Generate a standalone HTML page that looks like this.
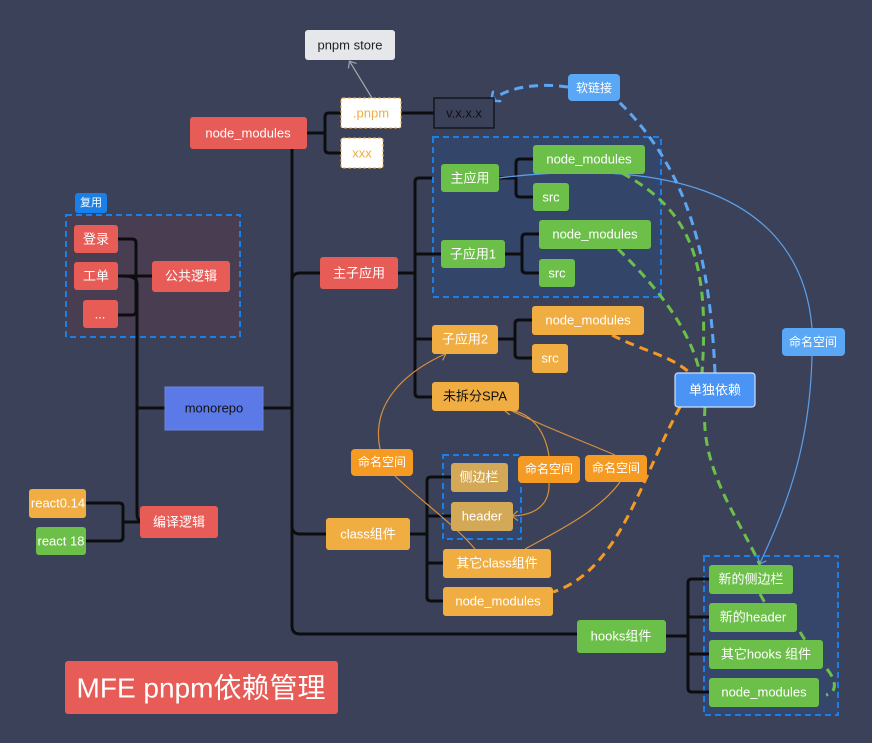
<!DOCTYPE html>
<html><head><meta charset="utf-8"><style>
html,body{margin:0;padding:0;background:#3b4159;}
svg{display:block}
text{font-family:"Liberation Sans","Noto Sans CJK SC",sans-serif;dominant-baseline:central;text-anchor:middle;}
</style></head><body>
<svg width="872" height="743" viewBox="0 0 872 743" xmlns="http://www.w3.org/2000/svg">
<defs>
<marker id="ao" markerWidth="10" markerHeight="10" refX="5" refY="5" orient="auto-start-reverse" markerUnits="userSpaceOnUse"><path d="M0,0 L6,5 L0,10" fill="none" stroke="#d8913a" stroke-width="1.2"/></marker>
<marker id="ab" markerWidth="14" markerHeight="14" refX="7" refY="7" orient="auto" markerUnits="userSpaceOnUse"><path d="M0,0 L8,7 L0,14" fill="none" stroke="#5aa7f5" stroke-width="2.5"/></marker>
<marker id="ab2" markerWidth="10" markerHeight="10" refX="5" refY="5" orient="auto" markerUnits="userSpaceOnUse"><path d="M0,0 L6,5 L0,10" fill="none" stroke="#5aa0ea" stroke-width="1.2"/></marker>
<marker id="ag" markerWidth="10" markerHeight="10" refX="5" refY="5" orient="auto" markerUnits="userSpaceOnUse"><path d="M0,0 L6,5 L0,10" fill="none" stroke="#9aa" stroke-width="1.2"/></marker>
</defs>
<rect x="0" y="0" width="872" height="743" fill="#3b4159"/>
<!-- group boxes -->
<rect x="66" y="215" width="174" height="122" fill="#493d52" stroke="#1a7fe6" stroke-width="2" stroke-dasharray="6,4"/>
<rect x="433" y="137" width="228" height="160" fill="#34456a" stroke="#1a7fe6" stroke-width="2" stroke-dasharray="6,4"/>
<rect x="443" y="455" width="78" height="84" fill="#36456a" stroke="#1a7fe6" stroke-width="2" stroke-dasharray="6,4"/>
<rect x="704" y="556" width="134" height="159" fill="#36456a" stroke="#1a7fe6" stroke-width="2" stroke-dasharray="6,4"/>

<!-- black tree lines -->
<g fill="none" stroke="#0d0d10" stroke-width="3" stroke-linejoin="round">
<path d="M292,149 V626 Q292,634 300,634 H577"/>
<path d="M263,408 H292"/>
<path d="M292,281 Q292,273 300,273 H320"/>
<path d="M292,526 Q292,534 300,534 H326"/>
<path d="M307,133 H325 M341,113 H329 Q325,113 325,117 V149 Q325,153 329,153 H341"/>
<path d="M401,113 H434"/>
<path d="M398,273 H415 M432,178 H419 Q415,178 415,182 V393 Q415,397 419,397 H432 M415,254 H441 M415,339 H432"/>
<path d="M499,178 H516 M533,159 H520 Q516,159 516,163 V193 Q516,197 520,197 H533"/>
<path d="M505,254 H522 M539,234 H526 Q522,234 522,238 V269 Q522,273 526,273 H539"/>
<path d="M498,339 H515 M532,320 H519 Q515,320 515,324 V354 Q515,358 519,358 H532"/>
<path d="M410,534 H427 M451,477 H431 Q427,477 427,481 V597 Q427,601 431,601 H443 M427,516 H451 M427,563 H443"/>
<path d="M666,636 H688 M709,579 H692 Q688,579 688,583 V688 Q688,692 692,692 H709 M688,617 H709 M688,654 H709"/>
<path d="M118,239 H132 Q136,239 136,243 V311 Q136,315 132,315 H118 M118,276 H152"/>
<path d="M124,276 Q137,276 137,284 V514 Q137,522 145,522 M137,408 H165"/>
<path d="M86,503 H119 Q123,503 123,507 V537 Q123,541 119,541 H86 M123,522 H140"/>
</g>

<!-- thin lines -->
<path d="M372,98 L350,62" stroke="#9aa" stroke-width="1.2" fill="none" marker-end="url(#ag)"/>
<g fill="none" stroke="#d8913a" stroke-width="1.2">
<path d="M380,449 C370,400 410,370 445,354" marker-end="url(#ao)"/>
<path d="M395,476 C420,500 455,525 475,549"/>
<path d="M549,456 C545,430 530,410 505,410" marker-end="url(#ao)"/>
<path d="M549,483 C550,505 535,515 513,516" marker-end="url(#ao)"/>
<path d="M615,455 C580,440 540,425 510,410"/>
<path d="M620,482 C600,510 560,530 525,549"/>
</g>
<path d="M499,178 C640,160 800,180 812,328" stroke="#5aa0ea" stroke-width="1.2" fill="none"/>
<path d="M812,356 C810,440 790,500 760,563" stroke="#5aa0ea" stroke-width="1.2" fill="none" marker-end="url(#ab2)"/>

<!-- dashed curves -->
<g fill="none" stroke-width="3" stroke-dasharray="9,6">
<path d="M715,373 C710,260 690,170 617,100" stroke="#5aa7f5"/>
<path d="M568,87 C540,83 510,86 492,100" stroke="#5aa7f5" marker-end="url(#ab)"/>
<path d="M622,173 C690,210 710,260 702,373" stroke="#6cc04a"/>
<path d="M618,249 C660,290 690,330 700,373" stroke="#6cc04a"/>
<path d="M612,335 C640,350 670,355 690,373" stroke="#f59a23"/>
<path d="M680,407 C640,480 620,570 553,592" stroke="#f59a23"/>
<path d="M705,407 C700,470 740,520 760,565" stroke="#6cc04a"/>
<path d="M760,594 L765,603 M800,632 L805,640 M827,669 C836,680 838,692 826,695" stroke="#6cc04a"/>
</g>

<!-- nodes -->
<g font-size="13">
<rect x="305" y="30" width="90" height="30" rx="3" fill="#e5e7eb"/><text x="350" y="45" fill="#222">pnpm store</text>
<rect x="190" y="117" width="117" height="32" rx="3" fill="#e85c57"/><text x="248" y="133" fill="#fff">node_modules</text>
<rect x="341" y="98" width="60" height="30" rx="2" fill="#fff" stroke="#f0ad42" stroke-dasharray="3,2"/><text x="371" y="113" fill="#f0ad42">.pnpm</text>
<rect x="341" y="138" width="42" height="30" rx="2" fill="#fff" stroke="#f0ad42" stroke-dasharray="3,2"/><text x="362" y="153" fill="#f0ad42">xxx</text>
<rect x="434" y="98" width="60" height="30" fill="#3b4159" stroke="#15161c" stroke-width="1.5"/><text x="464" y="113" fill="#111">v.x.x.x</text>
<rect x="568" y="74" width="52" height="27" rx="4" fill="#5aa7f5"/><text x="594" y="88" fill="#fff" font-size="12">软链接</text>
<rect x="441" y="164" width="58" height="28" rx="3" fill="#6cc04a"/><text x="470" y="178" fill="#fff">主应用</text>
<rect x="533" y="145" width="112" height="29" rx="3" fill="#6cc04a"/><text x="589" y="159" fill="#fff">node_modules</text>
<rect x="533" y="183" width="36" height="28" rx="3" fill="#6cc04a"/><text x="551" y="197" fill="#fff">src</text>
<rect x="441" y="240" width="64" height="28" rx="3" fill="#6cc04a"/><text x="473" y="254" fill="#fff">子应用1</text>
<rect x="539" y="220" width="112" height="29" rx="3" fill="#6cc04a"/><text x="595" y="234" fill="#fff">node_modules</text>
<rect x="539" y="259" width="36" height="28" rx="3" fill="#6cc04a"/><text x="557" y="273" fill="#fff">src</text>
<rect x="320" y="257" width="78" height="32" rx="3" fill="#e85c57"/><text x="359" y="273" fill="#fff">主子应用</text>
<rect x="432" y="325" width="66" height="29" rx="3" fill="#f0ad42"/><text x="465" y="339" fill="#fff">子应用2</text>
<rect x="532" y="306" width="112" height="29" rx="3" fill="#f0ad42"/><text x="588" y="320" fill="#fff">node_modules</text>
<rect x="532" y="344" width="36" height="29" rx="3" fill="#f0ad42"/><text x="550" y="358" fill="#fff">src</text>
<rect x="432" y="382" width="87" height="29" rx="3" fill="#f0ad42"/><text x="475" y="396" fill="#111">未拆分SPA</text>
<rect x="165" y="387" width="98" height="43" fill="#5b7ae8" stroke="#6d85e0"/><text x="214" y="408" fill="#111">monorepo</text>
<rect x="75" y="193" width="32" height="20" rx="3" fill="#1a7fe6"/><text x="91" y="203" fill="#fff" font-size="11">复用</text>
<rect x="74" y="225" width="44" height="28" rx="3" fill="#e85c57"/><text x="96" y="239" fill="#fff">登录</text>
<rect x="74" y="262" width="44" height="28" rx="3" fill="#e85c57"/><text x="96" y="276" fill="#fff">工单</text>
<rect x="83" y="300" width="35" height="28" rx="3" fill="#e85c57"/><text x="100" y="314" fill="#fff">...</text>
<rect x="152" y="261" width="78" height="31" rx="3" fill="#e85c57"/><text x="191" y="276" fill="#fff">公共逻辑</text>
<rect x="29" y="489" width="57" height="29" rx="3" fill="#f0ad42"/><text x="58" y="503" fill="#fff">react0.14</text>
<rect x="36" y="527" width="50" height="28" rx="3" fill="#6cc04a"/><text x="61" y="541" fill="#fff">react 18</text>
<rect x="140" y="506" width="78" height="32" rx="3" fill="#e85c57"/><text x="179" y="522" fill="#fff">编译逻辑</text>
<rect x="326" y="518" width="84" height="32" rx="3" fill="#f0ad42"/><text x="368" y="534" fill="#fff">class组件</text>
<rect x="451" y="463" width="57" height="29" rx="3" fill="#d3a857"/><text x="479" y="477" fill="#fff">侧边栏</text>
<rect x="451" y="502" width="62" height="29" rx="3" fill="#d3a857"/><text x="482" y="516" fill="#fff">header</text>
<rect x="351" y="449" width="62" height="27" rx="4" fill="#f59a23"/><text x="382" y="462" fill="#fff" font-size="12">命名空间</text>
<rect x="518" y="456" width="62" height="27" rx="4" fill="#f59a23"/><text x="549" y="469" fill="#fff" font-size="12">命名空间</text>
<rect x="585" y="455" width="62" height="27" rx="4" fill="#f59a23"/><text x="616" y="468" fill="#fff" font-size="12">命名空间</text>
<rect x="443" y="549" width="108" height="29" rx="3" fill="#f0ad42"/><text x="497" y="563" fill="#fff">其它class组件</text>
<rect x="443" y="587" width="110" height="29" rx="3" fill="#f0ad42"/><text x="498" y="601" fill="#fff">node_modules</text>
<rect x="577" y="620" width="89" height="33" rx="3" fill="#6cc04a"/><text x="621" y="636" fill="#fff">hooks组件</text>
<rect x="709" y="565" width="84" height="29" rx="3" fill="#6cc04a"/><text x="751" y="579" fill="#fff">新的侧边栏</text>
<rect x="709" y="603" width="88" height="29" rx="3" fill="#6cc04a"/><text x="753" y="617" fill="#fff">新的header</text>
<rect x="709" y="640" width="114" height="29" rx="3" fill="#6cc04a"/><text x="766" y="654" fill="#fff">其它hooks 组件</text>
<rect x="709" y="678" width="110" height="29" rx="3" fill="#6cc04a"/><text x="764" y="692" fill="#fff">node_modules</text>
<rect x="675" y="373" width="80" height="34" rx="3" fill="#4a94f5" stroke="#cfe0fa" stroke-width="1.2"/><text x="715" y="390" fill="#fff">单独依赖</text>
<rect x="782" y="328" width="63" height="28" rx="4" fill="#5aa7f5"/><text x="813" y="342" fill="#fff" font-size="12">命名空间</text>
<rect x="65" y="661" width="273" height="53" rx="3" fill="#e85c57"/><text x="201" y="688" fill="#fff" font-size="28">MFE pnpm依赖管理</text>
</g>
</svg>
</body></html>
